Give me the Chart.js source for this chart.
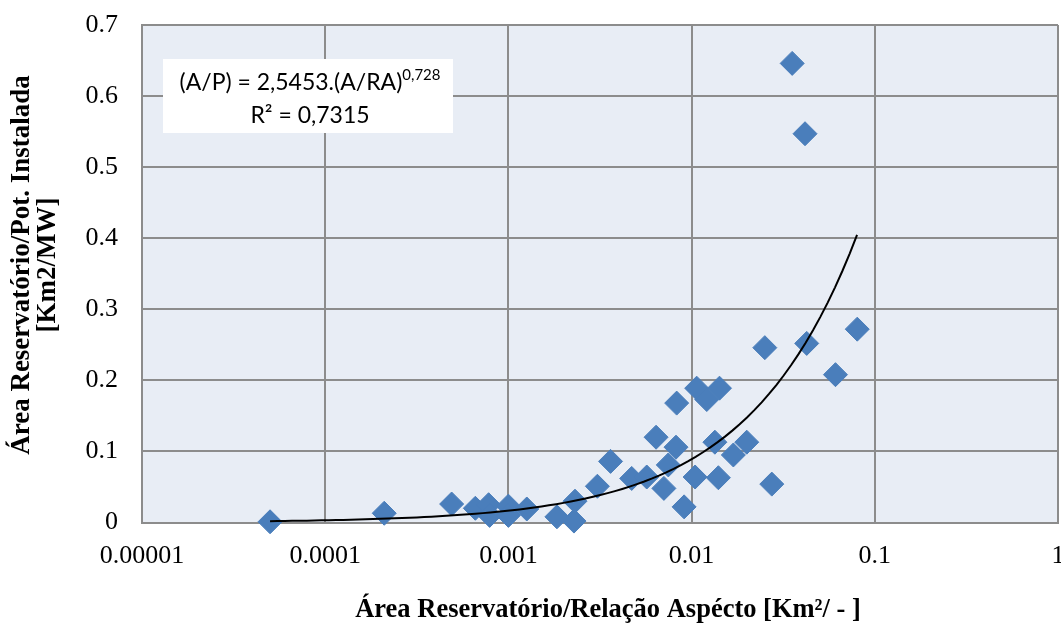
<!DOCTYPE html>
<html>
<head>
<meta charset="utf-8">
<script src="https://cdn.jsdelivr.net/npm/chart.js@4"></script>
<style>
  html, body { margin: 0; padding: 0; background: #fff; }
  #wrap { width: 1061px; height: 625px; }
</style>
</head>
<body>
<div id="wrap"><canvas id="graph"></canvas></div>
<script>
// ---------------- données ----------------
var xVals = [5.0e-5, 2.1e-4, 4.9e-4, 6.6e-4, 7.8e-4, 7.9e-4, 1.0e-3, 1.0e-3, 1.26e-3, 1.84e-3,
  2.28e-3, 2.31e-3, 3.06e-3, 3.61e-3, 4.71e-3, 5.69e-3, 6.40e-3, 7.06e-3, 7.46e-3, 8.22e-3,
  8.29e-3, 9.1e-3, 1.045e-2, 1.066e-2, 1.21e-2, 1.42e-2, 1.34e-2, 1.40e-2, 1.69e-2, 2.0e-2,
  2.51e-2, 2.74e-2, 3.54e-2, 4.16e-2, 4.25e-2, 6.1e-2, 8.02e-2];
var yVals = [0.001, 0.013, 0.026, 0.020, 0.025, 0.010, 0.023, 0.010, 0.019, 0.008,
  0.002, 0.030, 0.051, 0.086, 0.062, 0.064, 0.120, 0.048, 0.081, 0.106,
  0.168, 0.022, 0.064, 0.189, 0.173, 0.189, 0.113, 0.063, 0.095, 0.113,
  0.246, 0.054, 0.646, 0.547, 0.252, 0.208, 0.272];

// courbe de tendance (puissance) affichée sur le graphe
var trendCoef = 2.5453;
var trendExp = 0.728;
var trendXMin = 5e-5;
var trendXMax = 0.08;
var trendSteps = 80;

var xTickVals = [0.00001, 0.0001, 0.001, 0.01, 0.1, 1];
var xTickLabels = ["0.00001", "0.0001", "0.001", "0.01", "0.1", "1"];
var yTickLabels = ["0", "0.1", "0.2", "0.3", "0.4", "0.5", "0.6", "0.7"];

var xTitle = "\u00c1rea Reservat\u00f3rio/Rela\u00e7\u00e3o Asp\u00e9cto [Km\u00b2/ - ]";
var yTitle = ["\u00c1rea Reservat\u00f3rio/Pot. Instalada", "[Km2/MW]"];
var eqMain = "(A/P) = 2,5453.(A/RA)";
var eqSup = "0,728";
var eqR2 = "R\u00b2 = 0,7315";

// points du nuage
var points = xVals.map(function (x, i) {
  return { x: x, y: yVals[i] };
});

// points de la courbe y = a.x^b
var trend = [];
for (var k = 0; k <= trendSteps; k++) {
  var lx = Math.log10(trendXMin) + (Math.log10(trendXMax) - Math.log10(trendXMin)) * k / trendSteps;
  var tx = Math.pow(10, lx);
  trend.push({ x: tx, y: trendCoef * Math.pow(tx, trendExp) });
}

var gridColor = "#8c8c8c";
var serif = "'Liberation Serif', 'Times New Roman', serif";

// fond de la zone de tracé, titres des axes, encadré de l'équation
var plotBg = {
  id: "plotBg",
  beforeDraw: function (chart) {
    var ctx = chart.ctx, a = chart.chartArea;
    ctx.save();
    ctx.fillStyle = "#e8edf5";
    ctx.fillRect(a.left, a.top, a.right - a.left, a.bottom - a.top);
    ctx.restore();
  },
  afterDraw: function (chart) {
    var ctx = chart.ctx, a = chart.chartArea;
    ctx.save();
    ctx.fillStyle = "#000000";
    ctx.textAlign = "center";
    ctx.textBaseline = "middle";

    // titre axe x
    ctx.font = "bold 26.5px " + serif;
    ctx.fillText(xTitle, a.left + 466, a.bottom + 88);

    // titre axe y (deux lignes)
    ctx.save();
    ctx.translate(22, a.top + 240);
    ctx.rotate(-Math.PI / 2);
    ctx.font = "bold 27px " + serif;
    ctx.fillText(yTitle[0], 0, 0);
    ctx.fillText(yTitle[1], 0, 26);
    ctx.restore();

    // encadré
    var bx = a.left + 21, by = a.top + 34, bw = 290, bh = 74;
    ctx.fillStyle = "#ffffff";
    ctx.fillRect(bx, by, bw, bh);
    ctx.fillStyle = "#000000";
    ctx.textBaseline = "alphabetic";
    var mainFont = "23px Lato";
    var supFont = "15px Lato";
    ctx.font = mainFont;
    var w1 = ctx.measureText(eqMain).width;
    ctx.font = supFont;
    var w2 = ctx.measureText(eqSup).width;
    var cx = bx + bw / 2 + 2;
    var x1 = cx - (w1 + w2) / 2;
    ctx.font = mainFont;
    ctx.textAlign = "left";
    ctx.fillText(eqMain, x1, by + 31);
    ctx.font = supFont;
    ctx.fillText(eqSup, x1 + w1, by + 21);
    ctx.font = mainFont;
    ctx.textAlign = "center";
    ctx.fillText(eqR2, cx, by + 64);
    ctx.restore();
  }
};

var ctx = document.getElementById("graph");
var myChart = new Chart(ctx, {
  type: "scatter",
  data: {
    datasets: [
      {
        type: "line",
        label: "tendance",
        data: trend,
        borderColor: "#000000",
        borderWidth: 2,
        pointRadius: 0,
        fill: false,
        tension: 0,
        order: 0,
        clip: false
      },
      {
        label: "dados",
        data: points,
        pointStyle: "rectRot",
        pointRadius: 12,
        pointHoverRadius: 12,
        backgroundColor: "#4a7ebb",
        borderColor: "#4a7ebb",
        borderWidth: 1,
        order: 1,
        clip: false
      }
    ]
  },
  options: {
    responsive: true,
    maintainAspectRatio: false,
    animation: false,
    layout: { autoPadding: false, padding: { left: 0, right: 3, top: 25, bottom: 0 } },
    plugins: {
      legend: { display: false },
      tooltip: { enabled: false }
    },
    scales: {
      x: {
        type: "logarithmic",
        min: 0.00001,
        max: 1,
        afterBuildTicks: function (s) {
          s.ticks = xTickVals.map(function (v) { return { value: v }; });
        },
        afterFit: function (s) {
          s.height = 102.5;
          s.paddingLeft = 0;
          s.paddingRight = 0;
        },
        grid: { color: gridColor, lineWidth: 2, drawTicks: false },
        border: { color: gridColor, width: 2 },
        ticks: {
          autoSkip: false,
          maxRotation: 0,
          padding: 18,
          color: "#000000",
          font: { family: serif, size: 26 },
          callback: function (v, i) { return xTickLabels[i]; }
        }
      },
      y: {
        min: 0,
        max: 0.7,
        afterFit: function (s) {
          s.width = 142;
          s.paddingTop = 0;
          s.paddingBottom = 0;
        },
        grid: { color: gridColor, lineWidth: 2, drawTicks: false },
        border: { color: gridColor, width: 2 },
        ticks: {
          stepSize: 0.1,
          padding: 24,
          color: "#000000",
          font: { family: serif, size: 26 },
          callback: function (v, i) { return yTickLabels[i]; }
        }
      }
    }
  },
  plugins: [plotBg]
});
</script>
</body>
</html>
